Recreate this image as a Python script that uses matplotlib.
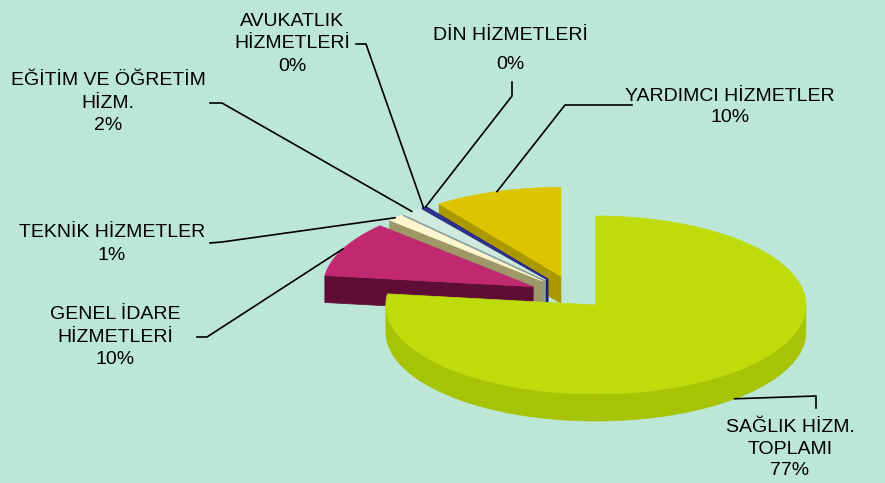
import numpy as np
import matplotlib
matplotlib.use("Agg")
import matplotlib.pyplot as plt
from matplotlib.patches import Polygon

plt.rcParams['font.family'] = ['Liberation Sans', 'DejaVu Sans']

# data (clockwise from 12 o'clock)
labels = ["SAĞLIK HİZM.\nTOPLAMI", "GENEL İDARE\nHİZMETLERİ", "TEKNİK HİZMETLER",
          "EĞİTİM VE ÖĞRETİM\nHİZM.", "AVUKATLIK\nHİZMETLERİ", "DİN HİZMETLERİ",
          "YARDIMCI HİZMETLER"]
values = [77.0, 10.0, 1.2, 1.6, 0.25, 0.1, 9.85]

# styles
top_colors = ["#bedc0b", "#c0296f", "#fcf6cf", "#cfeadf", "#34349a", "#22227a", "#dcc400"]
side_colors = ["#a6c304", "#5e0e35", "#9e9868", "#8a9c9a", "#1e1e70", "#1a1a60", "#ab9700"]
explode = [0.15, 0.22, 0.22, 0.22, 0.22, 0.22, 0.22]
BG = "#bce6d6"

# layout (pixel space)
CX, CY = 575, 295
RX, RY = 210, 89
DEPTH = 27
# label centre, linespacing, leader points from text side toward the slice
label_pos = [(790, 449), (115, 337), (112, 244), (108, 103), (292, 44), (510, 50), (730, 107)]
label_ls = [1.35, 1.44, 1.44, 1.45, 1.44, 1.92, 1.38]
leader_pts = [[(816, 408), (816, 396)], [(197, 337), (207, 337)], [(210, 243), (222, 242)],
              [(210, 103), (222, 103)], [(356, 44), (366, 44)], [(512, 82), (512, 96)],
              [(632, 105), (565, 105)]]


def pt(c, a, dz=0.0):
    t = np.radians(a)
    return (c[0] + RX * np.sin(t), c[1] - RY * np.cos(t) + dz)


fig = plt.figure(figsize=(8.85, 4.83), dpi=100)
fig.patch.set_facecolor(BG)
ax = fig.add_axes([0, 0, 1, 1])
ax.set_facecolor(BG)
ax.set_xlim(0, 885)
ax.set_ylim(483, 0)
ax.axis('off')

total = sum(values)
bounds = np.concatenate([[0], np.cumsum(values)]) * 360.0 / total
slices = []
for i, v in enumerate(values):
    a0, a1 = bounds[i], bounds[i + 1]
    mid = np.radians((a0 + a1) / 2)
    c = (CX + explode[i] * RX * np.sin(mid), CY - explode[i] * RY * np.cos(mid))
    slices.append((i, a0, a1, c))

# paint back slices first
order = sorted(slices, key=lambda s: s[3][1])
for i, a0, a1, c in order:
    z = 2 + 0.01 * c[1]
    cd = (c[0], c[1] + DEPTH)
    # cut faces that face the viewer
    for a, n in ((a0, a0 - 90), (a1, a1 + 90)):
        if np.cos(np.radians(n)) < -1e-6:
            p, pd = pt(c, a), pt(c, a, DEPTH)
            ax.add_patch(Polygon([c, p, pd, cd], closed=True, fc=side_colors[i],
                                 ec=side_colors[i], lw=0.5, zorder=z))
    # outer rim, front half only
    lo, hi = max(a0, 90), min(a1, 270)
    if hi > lo:
        ang = np.linspace(lo, hi, 80)
        rim = [pt(c, a) for a in ang] + [pt(c, a, DEPTH) for a in ang[::-1]]
        ax.add_patch(Polygon(rim, closed=True, fc=side_colors[i], ec=side_colors[i],
                             lw=0.5, zorder=z))
    ang = np.linspace(a0, a1, max(int(a1 - a0) * 2, 4))
    top = [c] + [pt(c, a) for a in ang]
    ax.add_patch(Polygon(top, closed=True, fc=top_colors[i], ec=top_colors[i],
                         lw=0.5, zorder=z + 0.001))

# labels with leader lines
for i, a0, a1, c in slices:
    mid = (a0 + a1) / 2
    front = np.cos(np.radians(mid)) < 0
    anchor = pt(c, mid, DEPTH if front else 0)
    pts = leader_pts[i] + [anchor]
    ax.plot([p[0] for p in pts], [p[1] for p in pts], color="black", lw=1.2, zorder=10)
    pct = "%.0f%%" % (100 * values[i] / total)
    x, y = label_pos[i]
    ax.text(x, y, labels[i] + "\n" + pct, ha="center", va="center", fontsize=14,
            linespacing=label_ls[i], color="black", zorder=11)

fig.savefig("out.png", dpi=100, facecolor=BG)
